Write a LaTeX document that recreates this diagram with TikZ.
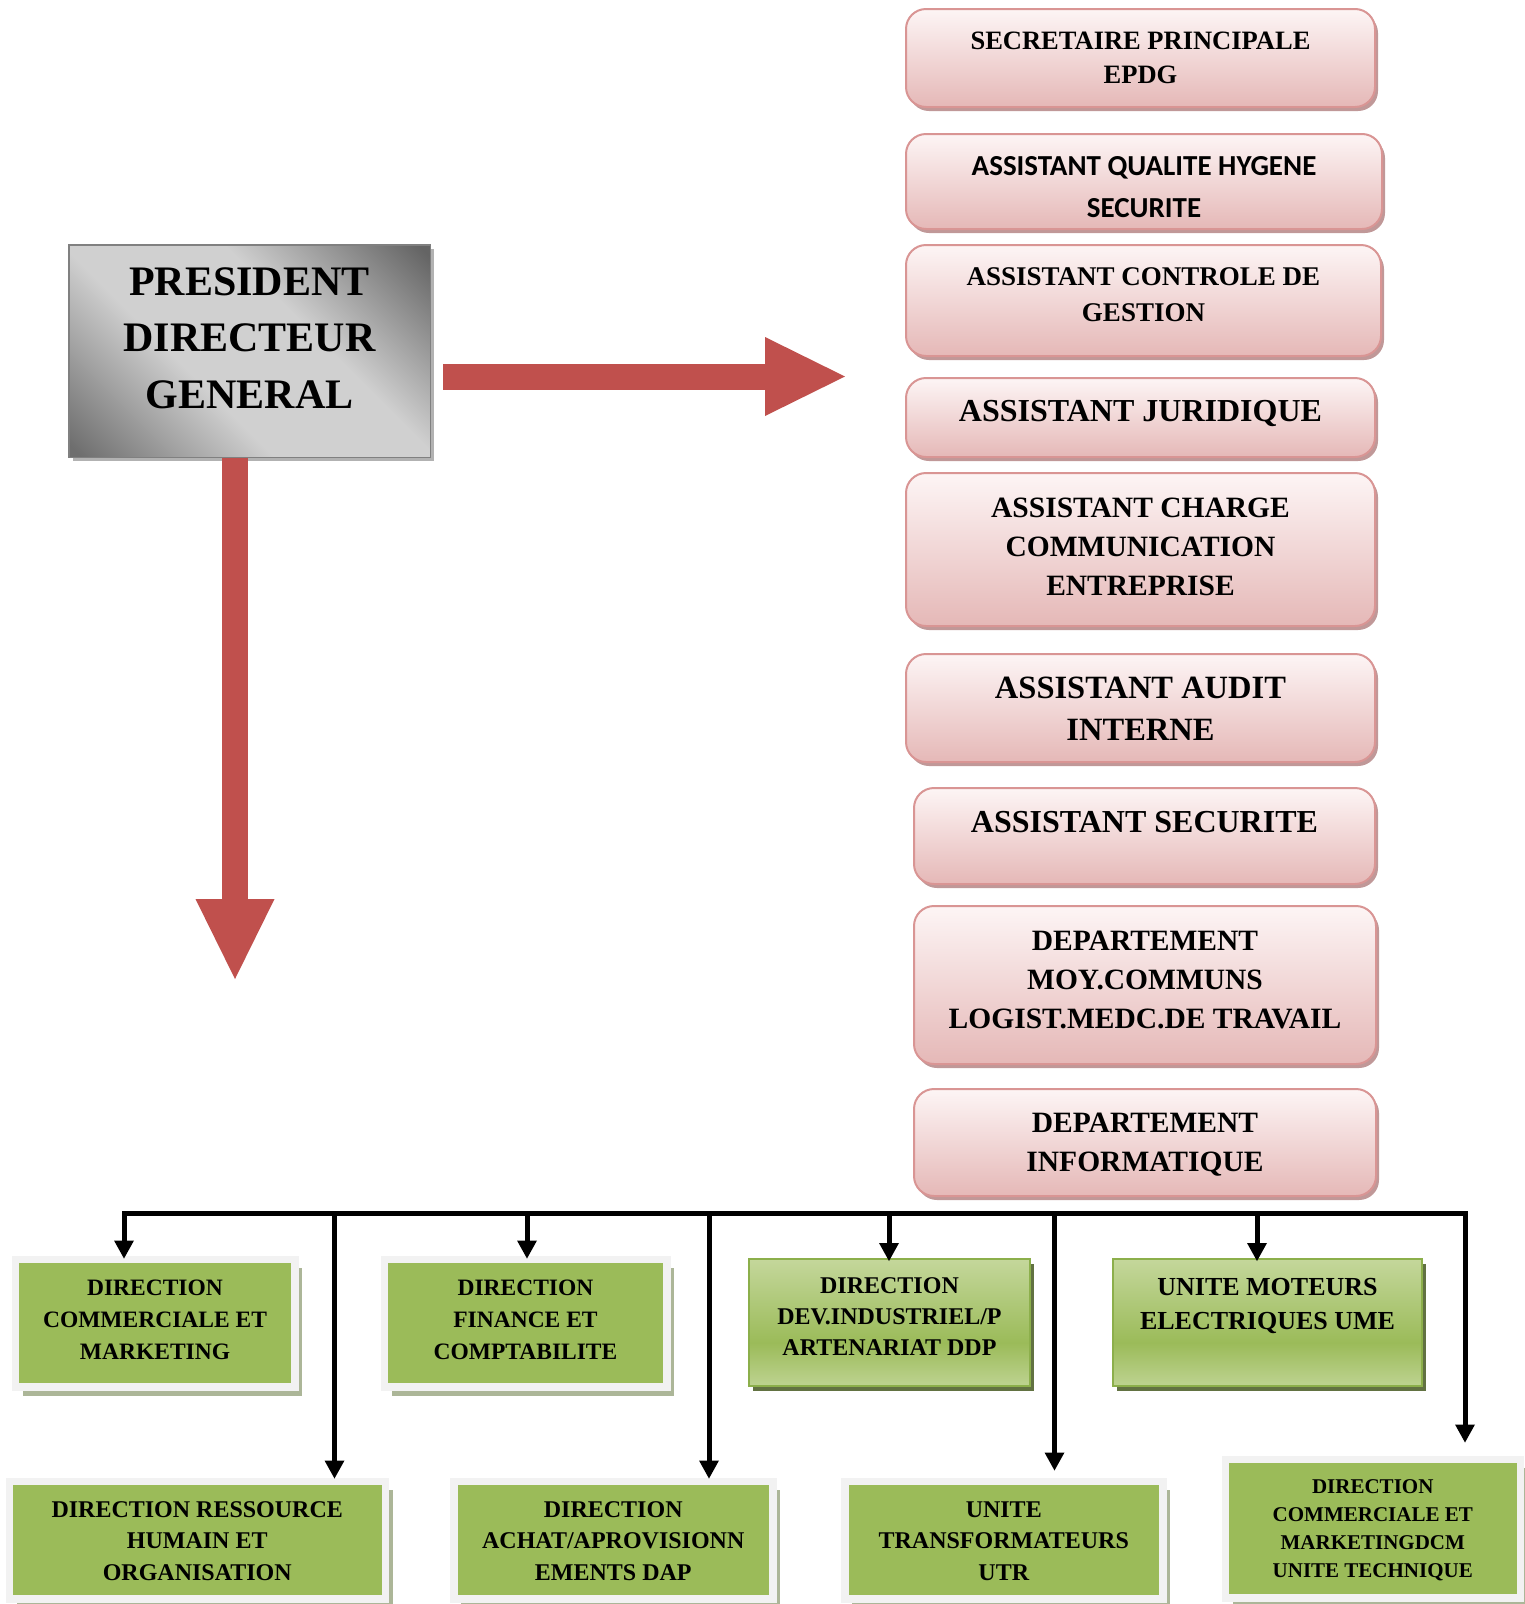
\documentclass[tikz,border=0pt]{standalone}
\usepackage{fontspec}
\setmainfont{Liberation Serif}
\newfontfamily\calibfont{Carlito}
\usetikzlibrary{arrows.meta,shadows,calc}

\definecolor{pinkline}{RGB}{217,149,148}
\definecolor{pinktop}{RGB}{253,245,245}
\definecolor{pinkbot}{RGB}{229,184,183}
\definecolor{pinkshade}{RGB}{192,152,152}
\definecolor{orgred}{RGB}{192,80,77}
\definecolor{greenfill}{RGB}{155,187,89}
\definecolor{greenlight}{RGB}{196,215,155}
\definecolor{greenline}{RGB}{140,175,75}
\definecolor{greendark}{RGB}{98,114,66}
\definecolor{framegray}{RGB}{242,242,242}
\definecolor{flatshade}{RGB}{172,182,152}
\definecolor{pdgdark}{RGB}{110,110,110}
\definecolor{pdgdeep}{RGB}{100,100,100}
\definecolor{pdglight}{RGB}{208,208,208}
\definecolor{pdgline}{RGB}{128,128,128}

% diagonal silver shading of the top box
\pgfdeclareverticalshading{pdgshade}{100bp}{color(0bp)=(pdgdark); color(16bp)=(pdgdark); color(40bp)=(pdglight); color(60bp)=(pdglight); color(84bp)=(pdgdeep); color(100bp)=(pdgdeep)}
% light-dark-light green band
\pgfdeclareverticalshading{greenshade}{100bp}{color(0bp)=(greenlight!85!greenfill); color(25bp)=(greenlight!85!greenfill); color(42bp)=(greenfill); color(75bp)=(greenlight); color(100bp)=(greenlight)}

% invisible rules fixing the height of the first line and the depth of the last one
\newcommand\strutA[1]{\rule{0pt}{#1pt}}
\newcommand\strutB[1]{\rule[-#1pt]{0pt}{#1pt}}

\tikzset{
  txt/.style 2 args={font=\fontsize{#1}{#2}\selectfont\bfseries},
  pdgbox/.style={rectangle, draw=pdgline, line width=1.5pt, shade, shading=pdgshade, shading angle=-45,
    inner sep=0pt, align=center,
    drop shadow={shadow xshift=4pt, shadow yshift=-4pt, fill=black!30, opacity=1}},
  pinkbox/.style={rectangle, rounded corners=20pt, draw=pinkline, line width=2pt,
    top color=pinktop, bottom color=pinkbot, inner sep=0pt, align=center,
    drop shadow={shadow xshift=3pt, shadow yshift=-4pt, fill=pinkshade, opacity=1}},
  flatgreen/.style={rectangle, draw=framegray, line width=7.5pt, fill=greenfill,
    inner sep=0pt, align=center,
    drop shadow={shadow xshift=7.5pt, shadow yshift=-9pt, fill=flatshade, opacity=1}},
  gradgreen/.style={rectangle, draw=greenline, line width=2pt, shade, shading=greenshade,
    inner sep=0pt, align=center,
    drop shadow={shadow xshift=4pt, shadow yshift=-5pt, fill=greendark, opacity=1}},
  redarrow/.style={draw=orgred, line width=26pt,
    -{Triangle[width=79pt,length=80pt,line width=0pt]}},
  busline/.style={draw=black, line width=5pt, line cap=rect},
  drop/.style={draw=black, line width=5pt,
    -{Triangle[width=20pt,length=18pt,line width=0pt]}},
}

\begin{document}
\begin{tikzpicture}[x=1pt,y=-1pt]
\useasboundingbox (0,0) rectangle (1524,1604);
\fill[white] (0,0) rectangle (1524,1604);

% top management box
\node[pdgbox, txt={42}{56.5}, minimum width=361.5pt, minimum height=212.5pt] (pdg) at (249.5,351)
  {\strutA{42}PRESIDENT\\DIRECTEUR\\GENERAL\strutB{41}};

% staff column
\node[pinkbox, txt={26.5}{34}, minimum width=469pt, minimum height=98pt] (sec) at (1140.5,58)
  {\strutA{27}SECRETAIRE PRINCIPALE\\EPDG\strutB{11}};
\node[pinkbox, font=\calibfont\fontsize{29}{42}\selectfont\bfseries, minimum width=476pt, minimum height=95pt] (qhs) at (1144,181.5)
  {\strutA{30}ASSISTANT QUALITE HYGENE\\SECURITE\strutB{1}};
\node[pinkbox, txt={27}{36}, minimum width=475pt, minimum height=111pt] (ctrl) at (1143.5,300.5)
  {\strutA{28}ASSISTANT CONTROLE DE\\GESTION\strutB{23}};
\node[pinkbox, txt={32}{40}, minimum width=469pt, minimum height=79pt] (jur) at (1140.5,417.5)
  {\strutA{33}ASSISTANT JURIDIQUE\strutB{26}};
\node[pinkbox, txt={29.5}{39}, minimum width=469pt, minimum height=153pt] (com) at (1140.5,549.5)
  {\strutA{30}ASSISTANT CHARGE\\COMMUNICATION\\ENTREPRISE\strutB{17}};
\node[pinkbox, txt={32.5}{42}, minimum width=469pt, minimum height=108pt] (aud) at (1140.5,708)
  {\strutA{33}ASSISTANT AUDIT\\INTERNE\strutB{11}};
\node[pinkbox, txt={32}{40}, minimum width=461pt, minimum height=96pt] (secu) at (1144.5,836)
  {\strutA{33}ASSISTANT SECURITE\strutB{41}};
\node[pinkbox, txt={29.5}{39}, minimum width=462pt, minimum height=158pt] (moy) at (1145,985)
  {\strutA{30}DEPARTEMENT\\MOY.COMMUNS\\LOGIST.MEDC.DE TRAVAIL\strutB{22}};
\node[pinkbox, txt={29.5}{39}, minimum width=462pt, minimum height=107pt] (info) at (1145,1142.5)
  {\strutA{30}DEPARTEMENT\\INFORMATIQUE\strutB{12}};

% directions, upper row
\node[flatgreen, txt={23.5}{32}, minimum width=279.5pt, minimum height=127.5pt] (dcm) at (155,1323)
  {\strutA{24}DIRECTION\\COMMERCIALE ET\\MARKETING\strutB{16}};
\node[flatgreen, txt={23.5}{32}, minimum width=282.5pt, minimum height=127.5pt] (dfc) at (525.5,1323)
  {\strutA{24}DIRECTION\\FINANCE ET\\COMPTABILITE\strutB{16}};
\node[gradgreen, txt={24}{31}, minimum width=281pt, minimum height=127pt] (ddp) at (889.5,1322.5)
  {\strutA{24}DIRECTION\\DEV.INDUSTRIEL/P\\ARTENARIAT DDP\strutB{21}};
\node[gradgreen, txt={26}{34}, minimum width=309pt, minimum height=127pt] (ume) at (1267.5,1322.5)
  {\strutA{26}UNITE MOTEURS\\ELECTRIQUES UME\strutB{47}};

% directions, lower row
\node[flatgreen, txt={24}{31.5}, minimum width=376pt, minimum height=117.5pt] (drh) at (197.25,1540)
  {\strutA{24}DIRECTION RESSOURCE\\HUMAIN ET\\ORGANISATION\strutB{7}};
\node[flatgreen, txt={24}{31.5}, minimum width=319pt, minimum height=117.5pt] (dap) at (613.25,1540)
  {\strutA{24}DIRECTION\\ACHAT/APROVISIONN\\EMENTS DAP\strutB{7}};
\node[flatgreen, txt={24}{31.5}, minimum width=318pt, minimum height=117.5pt] (utr) at (1003.75,1540)
  {\strutA{24}UNITE\\TRANSFORMATEURS\\UTR\strutB{7}};
\node[flatgreen, txt={21}{28}, minimum width=295pt, minimum height=138.5pt] (dcmut) at (1372.75,1528.5)
  {\strutA{21}DIRECTION\\COMMERCIALE ET\\MARKETINGDCM\\UNITE TECHNIQUE\strutB{8}};

% block arrows leaving the top box
\coordinate (rtip) at (845,376.5);
\coordinate (dtip) at (235,979);
\draw[redarrow] ($(pdg.east |- rtip)+(12,0)$) -- (rtip);
\draw[redarrow] (pdg.south -| dtip) -- (dtip);

% distribution bus and its drops
\coordinate (b1) at (124,1213);
\coordinate (b2) at (334.5,1213);
\coordinate (b3) at (527,1213);
\coordinate (b4) at (709,1213);
\coordinate (b5) at (889,1213);
\coordinate (b6) at (1054.5,1213);
\coordinate (b7) at (1257,1213);
\coordinate (b8) at (1465,1213);
\draw[busline] (b1) -- (b8);
\draw[drop, shorten >=-3pt] (b1) -- (dcm.north -| b1);
\draw[drop, shorten >=-3pt] (b3) -- (dfc.north -| b3);
\draw[drop, shorten >=-3pt] (b5) -- (ddp.north -| b5);
\draw[drop, shorten >=-3pt] (b7) -- (ume.north -| b7);
\draw[drop, shorten >=-1pt] (b2) -- (drh.north -| b2);
\draw[drop, shorten >=-1pt] (b4) -- (dap.north -| b4);
\draw[drop, shorten >=7pt] (b6) -- (utr.north -| b6);
\draw[drop, shorten >=13pt] (b8) -- (dcmut.north -| b8);
\end{tikzpicture}
\end{document}
